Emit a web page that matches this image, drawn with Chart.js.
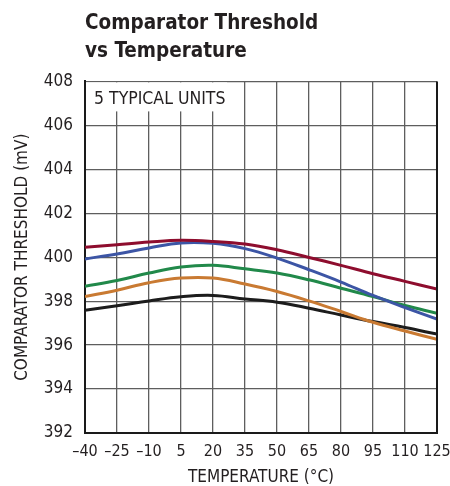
<!DOCTYPE html>
<html>
<head>
<meta charset="utf-8">
<script src="https://cdn.jsdelivr.net/npm/chart.js@4.4.1/dist/chart.umd.min.js"></script>
<style>
  html, body { margin: 0; padding: 0; background: #fff; }
  #wrap { width: 450px; height: 486px; position: relative; }
</style>
</head>
<body>
<div id="wrap"><canvas id="c" width="450" height="486"></canvas></div>
<script>
const temps = [-40, -25, -10, 5, 20, 35, 50, 65, 80, 95, 110, 125];
const xTickLabels = ['–40', '–25', '–10', '5', '20', '35', '50', '65', '80', '95', '110', '125'];
const yTickLabels = ['392', '394', '396', '398', '400', '402', '404', '406', '408'];
const unitRed    = [400.45, 400.57, 400.69, 400.77, 400.72, 400.60, 400.34, 399.99, 399.63, 399.25, 398.90, 398.55];
const unitBlue   = [399.92, 400.15, 400.42, 400.65, 400.63, 400.39, 399.96, 399.43, 398.87, 398.26, 397.71, 397.18];
const unitGreen  = [398.68, 398.94, 399.28, 399.55, 399.63, 399.47, 399.28, 398.97, 398.59, 398.21, 397.80, 397.45];
const unitOrange = [398.21, 398.50, 398.84, 399.05, 399.05, 398.78, 398.44, 398.01, 397.53, 397.04, 396.64, 396.26];
const unitBlack  = [397.59, 397.79, 398.01, 398.20, 398.26, 398.10, 397.95, 397.68, 397.37, 397.07, 396.80, 396.50];
const seriesNames = ['Unit 1', 'Unit 2', 'Unit 3', 'Unit 4', 'Unit 5'];
const noteText = '5 TYPICAL UNITS';

const FONT = '"DejaVu Sans Condensed", "Liberation Sans Narrow", sans-serif';
const TXT = '#231f20';

function mk(name, vals, color) {
  return {
    label: name,
    data: temps.map((t, i) => ({ x: t, y: vals[i] })),
    borderColor: color,
    backgroundColor: color,
    borderWidth: 3,
    pointRadius: 0,
    tension: 0.4,
    fill: false
  };
}

const notePlugin = {
  id: 'note',
  beforeDatasetsDraw(chart) {
    const ctx = chart.ctx, a = chart.chartArea;
    ctx.save();
    ctx.fillStyle = '#fff';
    ctx.fillRect(a.left + 1, a.top + 1, 141, 29);
    ctx.fillStyle = TXT;
    ctx.font = '17.5px ' + FONT;
    ctx.textBaseline = 'alphabetic';
    ctx.textAlign = 'left';
    ctx.fillText(noteText, a.left + 9, a.top + 23);
    ctx.restore();
  },
  afterDatasetsDraw(chart) {
    const ctx = chart.ctx, a = chart.chartArea;
    ctx.save();
    ctx.strokeStyle = '#1a1a1a';
    ctx.lineWidth = 2;
    ctx.beginPath();
    ctx.moveTo(a.right, a.top);
    ctx.lineTo(a.right, a.bottom + 1);
    ctx.stroke();
    ctx.restore();
  }
};

new Chart(document.getElementById('c'), {
  type: 'line',
  data: {
    datasets: [
      mk(seriesNames[0], unitRed, '#8e0d2e'),
      mk(seriesNames[1], unitBlue, '#3c55a5'),
      mk(seriesNames[2], unitGreen, '#21894a'),
      mk(seriesNames[3], unitOrange, '#c97a32'),
      mk(seriesNames[4], unitBlack, '#1c1c1c')
    ]
  },
  plugins: [notePlugin],
  options: {
    responsive: false,
    animation: false,
    layout: { padding: { left: 0, right: 0, top: 9, bottom: 0 } },
    plugins: {
      legend: { display: false },
      tooltip: { enabled: false },
      title: {
        display: true,
        text: ['Comparator Threshold', 'vs Temperature'],
        align: 'start',
        fullSize: false,
        color: TXT,
        font: { family: FONT, size: 20.5, weight: 'bold', lineHeight: 1.4 },
        padding: { top: 0, bottom: 15 }
      }
    },
    scales: {
      x: {
        type: 'linear',
        min: -40, max: 125,
        afterBuildTicks(s) { s.ticks = temps.map(v => ({ value: v })); },
        afterFit(s) { s.height = 53; s.paddingRight = 13; s.paddingLeft = 0; },
        ticks: {
          autoSkip: false, maxRotation: 0,
          padding: 9,
          color: TXT,
          font: { family: FONT, size: 16 },
          callback: (v) => xTickLabels[temps.indexOf(v)]
        },
        grid: { color: '#5e5e5e', lineWidth: 1.3, drawTicks: false },
        border: { color: '#1a1a1a', width: 2 },
        title: {
          display: true,
          text: 'TEMPERATURE (°C)',
          color: TXT,
          font: { family: FONT, size: 17, lineHeight: 1 },
          padding: { top: 0, bottom: 0 }
        }
      },
      y: {
        type: 'linear',
        min: 392, max: 408,
        ticks: {
          stepSize: 2,
          padding: 12,
          color: TXT,
          font: { family: FONT, size: 17 },
          callback: (v) => yTickLabels[(v - 392) / 2]
        },
        afterFit(s) { s.width = 85; },
        grid: { color: '#5e5e5e', lineWidth: 1.3, drawTicks: false },
        border: { color: '#1a1a1a', width: 2 },
        title: {
          display: true,
          text: 'COMPARATOR THRESHOLD (mV)',
          color: TXT,
          font: { family: FONT, size: 17 },
          padding: { top: 12, bottom: 0 }
        }
      }
    }
  }
});
</script>
</body>
</html>
